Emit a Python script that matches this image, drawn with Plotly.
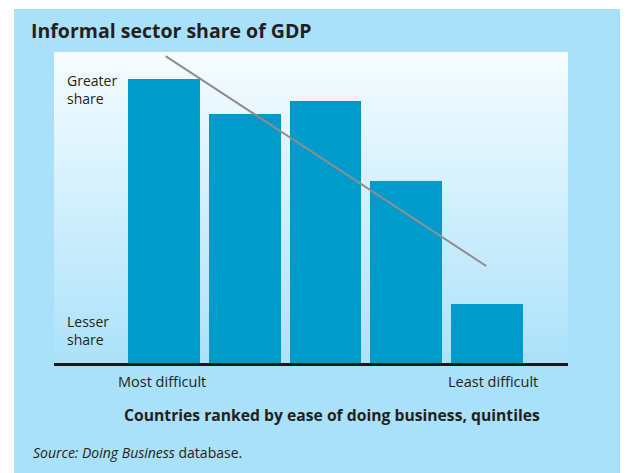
import plotly.graph_objects as go

# quintiles, most difficult -> least difficult
quintiles = [1, 2, 3, 4, 5]
share = [91.3, 80.1, 84.2, 58.5, 19.0]   # relative informal share (no scale shown)
trend_x = [1.02, 4.99]
trend_y = [98.7, 31.2]

# the page body has an 8px margin, so the figure sits at (8, 8) in the window
OFF = 8
W, H = 628 - OFF, 473 - OFF
L, R, T, B = 54 - OFF, 60, 52 - OFF, 110
PW, PH = W - L - R, H - T - B

BG = "#a9e0fa"
BAR = "#009bcb"
TXT = "#231f20"


def px(x, y):
    # window pixel position -> paper coords
    x, y = x - OFF, y - OFF
    return (x - L) / PW, (H - B - y) / PH


fig = go.Figure()

fig.add_trace(go.Bar(x=quintiles, y=share, width=0.89,
                     marker=dict(color=BAR, line=dict(width=0)),
                     hoverinfo="skip"))
fig.add_trace(go.Scatter(x=trend_x, y=trend_y, mode="lines",
                         line=dict(color="#8e8e8e", width=2),
                         hoverinfo="skip"))

shapes = []
# outer light blue panel
x0, y0 = px(14, 9)
x1, y1 = px(640, 480)
shapes.append(dict(type="rect", xref="paper", yref="paper", x0=x0, y0=y0, x1=x1, y1=y1,
                   fillcolor=BG, line=dict(width=0), layer="below"))
# plot area gradient (white top -> light blue bottom)
n = 60
top = (246, 252, 255)
bot = (172, 226, 249)
for i in range(n):
    t = i / (n - 1)
    c = [round(top[k] + (bot[k] - top[k]) * t) for k in range(3)]
    shapes.append(dict(type="rect", xref="paper", yref="paper",
                       x0=0, x1=1, y0=1 - (i + 1) / n - 0.002, y1=1 - i / n,
                       fillcolor="rgb(%d,%d,%d)" % tuple(c), line=dict(width=0), layer="below"))

annotations = []


def label(text, x, y, size, xanchor="left", bold=False, align="left"):
    ax, ay = px(x, y)
    annotations.append(dict(text=text, x=ax, y=ay, xref="paper", yref="paper",
                            xanchor=xanchor, yanchor="middle", showarrow=False, align=align,
                            font=dict(family="Open Sans", size=size, color=TXT,
                                      weight="bold" if bold else "normal")))


label("Informal sector share of GDP", 29, 30, 19.5, bold=True)
label("Greater<br>share", 65, 89, 14)
label("Lesser<br>share", 65, 330, 14)
label("Most difficult", 162, 381, 14.5, xanchor="center")
label("Least difficult", 493, 381, 14.5, xanchor="center")
label("Countries ranked by ease of doing business, quintiles", 332, 415, 15.7,
      xanchor="center", bold=True)
label("<i>Source: Doing Business</i> database.", 31, 452, 14)

fig.update_layout(
    width=W, height=H,
    margin=dict(l=L, r=R, t=T, b=B),
    paper_bgcolor="white",
    plot_bgcolor=BG,
    showlegend=False,
    bargap=0,
    shapes=shapes,
    annotations=annotations,
    xaxis=dict(range=[-0.362, 6.003], showgrid=False, zeroline=False,
               showticklabels=False, ticks="", showline=True,
               linecolor="#1a1a1a", linewidth=3, fixedrange=True),
    yaxis=dict(range=[0, 100], showgrid=False, zeroline=False,
               showticklabels=False, ticks="", showline=False, fixedrange=True),
)

fig.write_html("out.html", config={"displayModeBar": False})
